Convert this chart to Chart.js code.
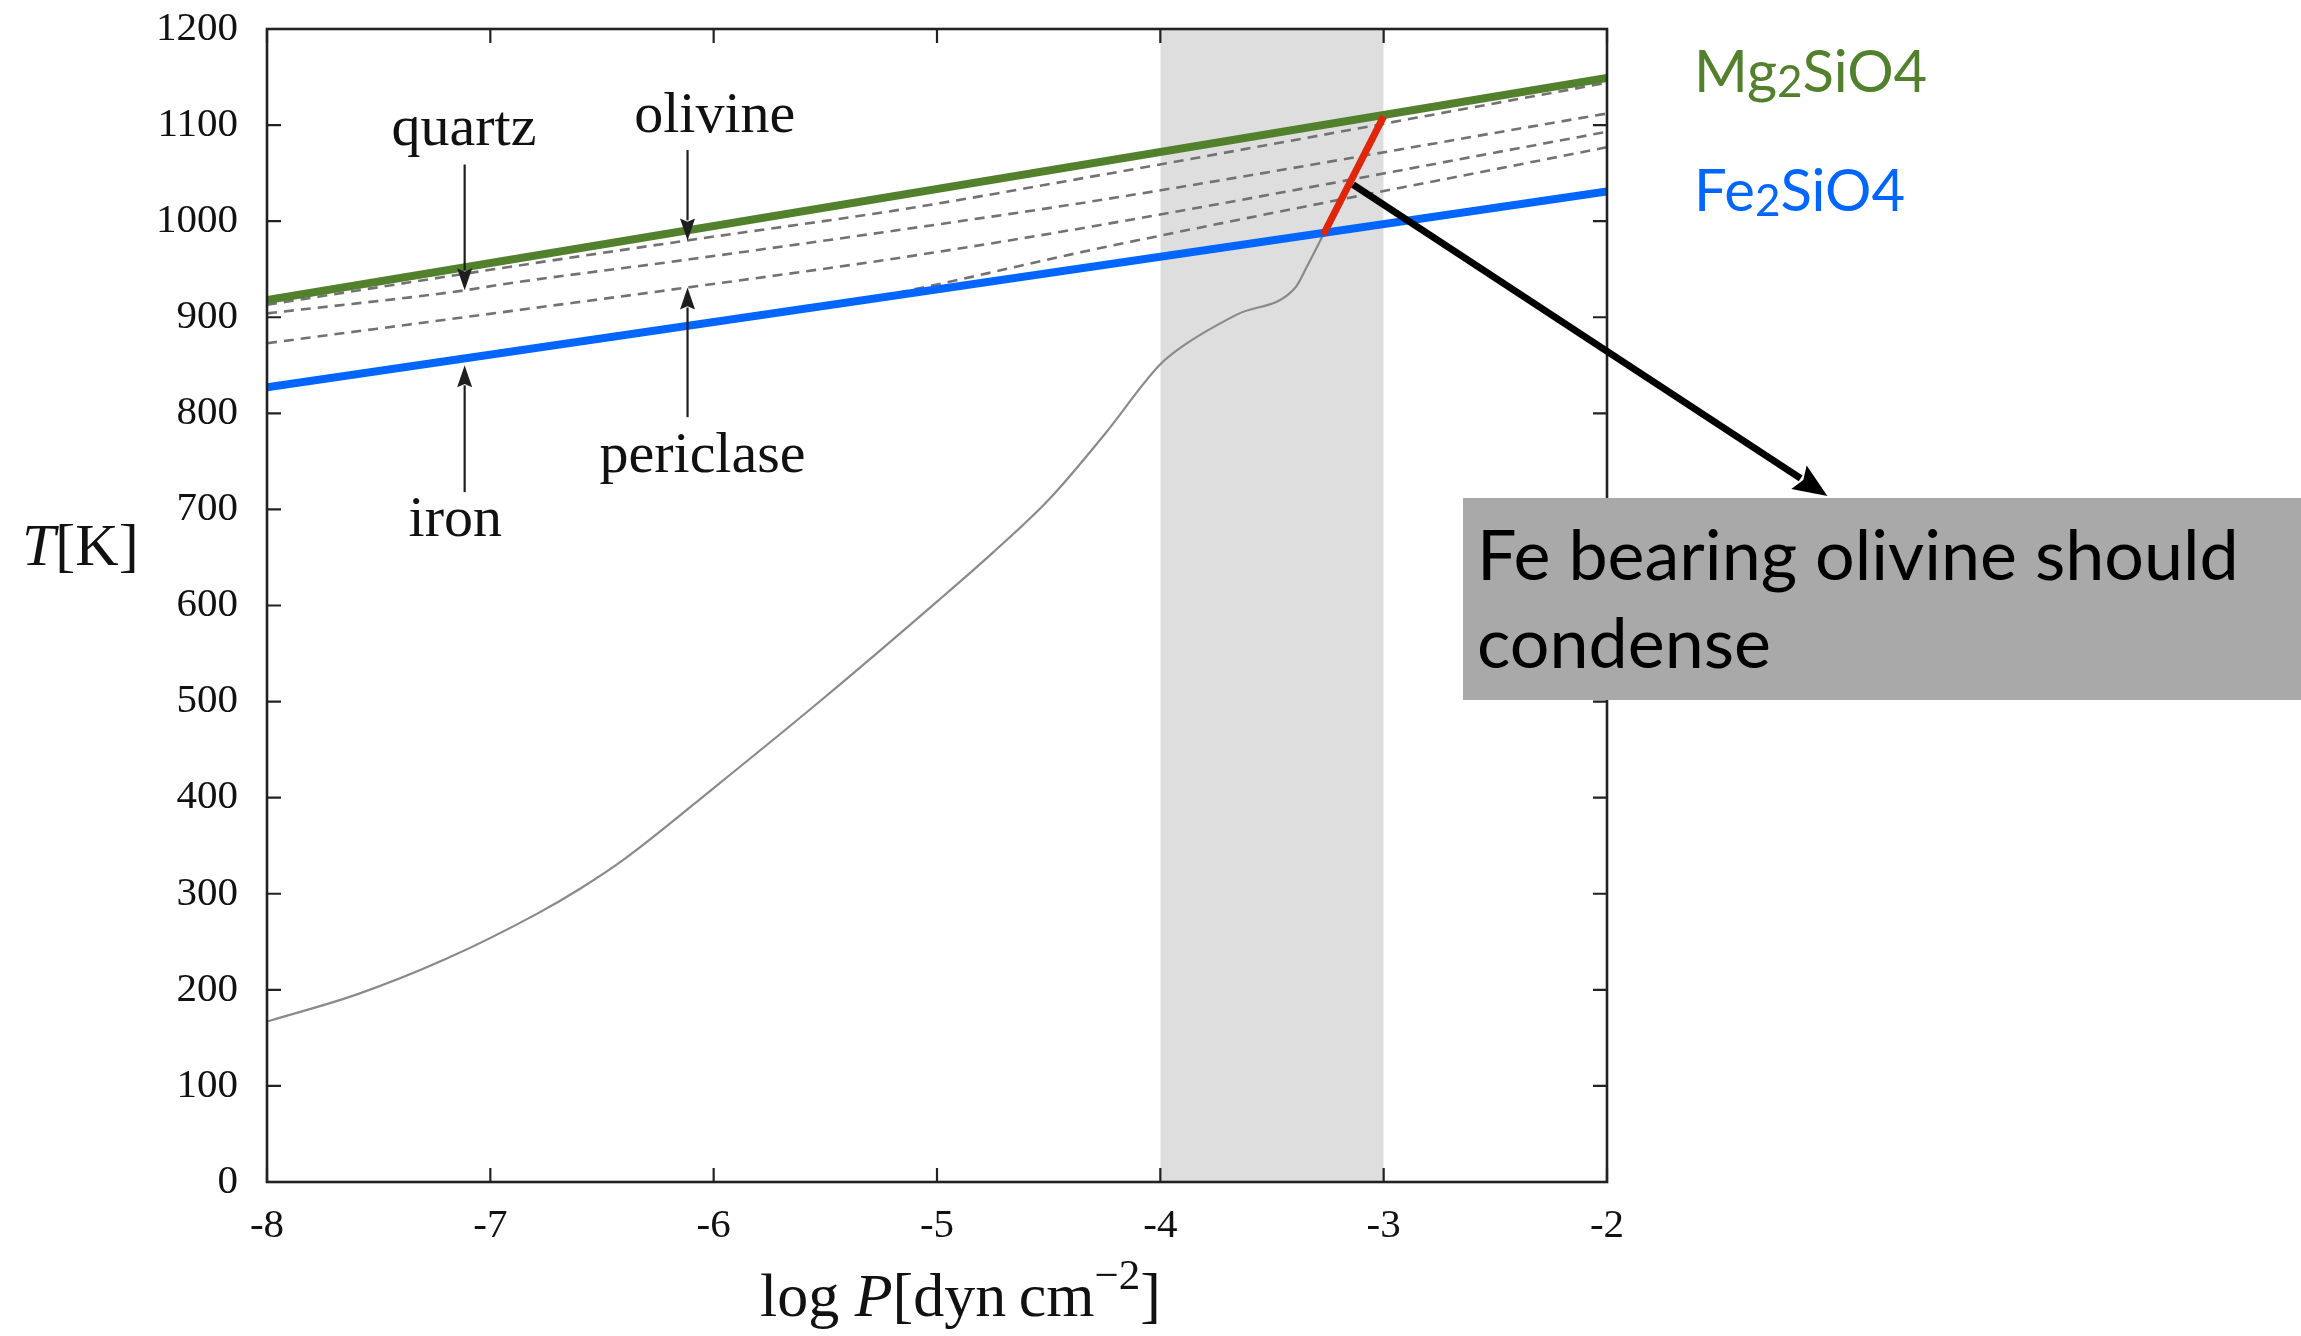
<!DOCTYPE html>
<html>
<head>
<meta charset="utf-8">
<script src="https://cdn.jsdelivr.net/npm/chart.js@4.4.1/dist/chart.umd.min.js"></script>
<style>
  html, body { margin: 0; padding: 0; background: #fff; }
  canvas { display: block; }
</style>
</head>
<body>
<canvas id="condensationChart" width="2301" height="1336"></canvas>
<script>
/* ================================
   Data
================================ */
const xTicks = [-8, -7, -6, -5, -4, -3, -2];
const yTicks = [0, 100, 200, 300, 400, 500, 600, 700, 800, 900, 1000, 1100, 1200];

// straight condensation lines
const lineLogP = [-8, -2];
const tMg2SiO4 = [918, 1149];
const tFe2SiO4 = [827, 1031];

// dashed condensation curves
const olivineLogP = [-8, -6.955, -6.117, -5.164, -4.268, -2];
const olivineT = [913, 951, 980, 1012, 1048, 1144];
const quartzLogP = [-8, -7.115, -6.955, -6.117, -5.164, -4.268, -2];
const quartzT = [904, 928, 934, 960, 991, 1022, 1112];
const periclaseLogP = [-8, -6.955, -6.117, -5.164, -4.268, -2];
const periclaseT = [873, 905, 931, 962, 996, 1093];
const dashed4LogP = [-5.7, -5.164, -4.268, -2];
const dashed4T = [903, 926, 972, 1077];

// thin grey (p,T) profile
const profileLogP = [-8, -7.6, -7.2, -6.8, -6.6, -6.4, -6, -5.5, -5, -4.75, -4.5, -4.25, -4, -3.88, -3.656, -3.395, -3.343, -3.27];
const profileT = [167, 195, 232, 278, 305, 336, 410, 505, 604, 655, 710, 778, 851, 873, 903, 931, 953, 986];

// red segment (Fe bearing olivine)
const redLogP = [-3.27, -3.0];
const redT = [986, 1109];

// shaded pressure band
const bandLogP = [-4, -3];
const bandT = [1200, 1200];

// arrows with labels
const noteText = ["quartz", "olivine", "periclase", "iron"];
const noteTextLogP = [-7.118, -5.995, -6.05, -7.157];
const noteTextT = [1079, 1093, 739, 672];
const noteArrowLogP = [-7.115, -6.117, -6.117, -7.115];
const noteArrowFromT = [1059, 1074, 796, 718];
const noteArrowToT = [928, 980, 931, 850];

// pointer from red segment to the text box
const pointerLogP = [-3.137, -1.013];
const pointerT = [1038, 714];

/* ================================
   Styles
================================ */
const SERIF = "'Liberation Serif', 'DejaVu Serif', serif";
const SANS = "Lato, 'Open Sans', sans-serif";
const GREEN = "#52802d";
const BLUE = "#0066ff";
const RED = "#e0260a";
const AXIS = "#222";
const TICK_LEN = 14;

function toPts(xs, ys) {
  return xs.map((v, i) => ({ x: v, y: ys[i] }));
}

function dashedSet(label, xs, ys) {
  return {
    label,
    data: toPts(xs, ys),
    borderColor: "#727272",
    borderWidth: 2.6,
    borderDash: [10, 7],
    pointRadius: 0,
    cubicInterpolationMode: "monotone"
  };
}

/* ================================
   Drawing helpers
================================ */
function drawRuns(ctx, runs, x, y, align) {
  let total = 0;
  runs.forEach(r => {
    ctx.font = r.font;
    r.w = ctx.measureText(r.text).width;
    total += r.w;
  });
  let cx = align === "center" ? x - total / 2 : x;
  runs.forEach(r => {
    ctx.font = r.font;
    if (r.color) ctx.fillStyle = r.color;
    ctx.fillText(r.text, cx, y + (r.dy || 0));
    cx += r.w;
  });
}

function drawArrow(ctx, x0, y0, x1, y1, lw, headLen, headW, color) {
  const ang = Math.atan2(y1 - y0, x1 - x0);
  const bx = x1 - Math.cos(ang) * headLen;
  const by = y1 - Math.sin(ang) * headLen;
  ctx.strokeStyle = color;
  ctx.fillStyle = color;
  ctx.lineWidth = lw;
  ctx.beginPath();
  ctx.moveTo(x0, y0);
  ctx.lineTo(bx + Math.cos(ang) * 2, by + Math.sin(ang) * 2);
  ctx.stroke();
  ctx.beginPath();
  ctx.moveTo(x1, y1);
  ctx.lineTo(bx + Math.sin(ang) * headW / 2, by - Math.cos(ang) * headW / 2);
  ctx.lineTo(bx + Math.cos(ang) * headLen * 0.15, by + Math.sin(ang) * headLen * 0.15);
  ctx.lineTo(bx - Math.sin(ang) * headW / 2, by + Math.cos(ang) * headW / 2);
  ctx.closePath();
  ctx.fill();
}

/* ================================
   Plugin: frame, ticks, notes
================================ */
const figureNotes = {
  id: "figureNotes",
  beforeDraw(chart) {
    const { ctx, width, height } = chart;
    ctx.save();
    ctx.fillStyle = "#fff";
    ctx.fillRect(0, 0, width, height);
    ctx.restore();
  },
  afterDatasetsDraw(chart) {
    const { ctx, chartArea: a, scales: { x, y } } = chart;
    ctx.save();

    // frame + inward ticks on all four sides
    ctx.strokeStyle = AXIS;
    ctx.lineWidth = 2.6;
    ctx.strokeRect(a.left, a.top, a.right - a.left, a.bottom - a.top);
    ctx.lineWidth = 2.2;
    ctx.beginPath();
    xTicks.forEach(v => {
      const px = x.getPixelForValue(v);
      ctx.moveTo(px, a.bottom); ctx.lineTo(px, a.bottom - TICK_LEN);
      ctx.moveTo(px, a.top); ctx.lineTo(px, a.top + TICK_LEN);
    });
    yTicks.forEach(v => {
      const py = y.getPixelForValue(v);
      ctx.moveTo(a.left, py); ctx.lineTo(a.left + TICK_LEN, py);
      ctx.moveTo(a.right, py); ctx.lineTo(a.right - TICK_LEN, py);
    });
    ctx.stroke();

    // labelled arrows inside the plot
    ctx.textBaseline = "alphabetic";
    noteText.forEach((t, i) => {
      const ax = x.getPixelForValue(noteArrowLogP[i]);
      drawArrow(ctx, ax, y.getPixelForValue(noteArrowFromT[i]), ax, y.getPixelForValue(noteArrowToT[i]), 2.2, 22, 15, "#1e1e1e");
      ctx.fillStyle = "#111";
      ctx.font = "58px " + SERIF;
      ctx.textAlign = "center";
      ctx.fillText(t, x.getPixelForValue(noteTextLogP[i]), y.getPixelForValue(noteTextT[i]));
    });
    ctx.textAlign = "left";

    // axis titles
    ctx.fillStyle = "#111";
    drawRuns(ctx, [
      { text: "T", font: "italic 60px " + SERIF },
      { text: "[K]", font: "60px " + SERIF }
    ], 22, 565, "left");
    drawRuns(ctx, [
      { text: "log ", font: "62px " + SERIF },
      { text: "P", font: "italic 62px " + SERIF },
      { text: "[dyn\u2009cm", font: "62px " + SERIF },
      { text: "\u22122", font: "43px " + SERIF, dy: -27 },
      { text: "]", font: "62px " + SERIF }
    ], 760, 1316, "left");

    // species labels right of the plot
    drawRuns(ctx, [
      { text: "Mg", font: "58px " + SANS, color: GREEN },
      { text: "2", font: "44px " + SANS, dy: 5 },
      { text: "SiO4", font: "58px " + SANS }
    ], a.right + 87, 92, "left");
    drawRuns(ctx, [
      { text: "Fe", font: "58px " + SANS, color: BLUE },
      { text: "2", font: "44px " + SANS, dy: 5 },
      { text: "SiO4", font: "58px " + SANS }
    ], a.right + 87, 211, "left");

    // grey call-out box
    const boxLeft = 1463, boxTop = 498, boxBottom = 700;
    ctx.fillStyle = "#a9a9a9";
    ctx.fillRect(boxLeft, boxTop, chart.width - boxLeft, boxBottom - boxTop);
    ctx.fillStyle = "#000";
    ctx.font = "70px " + SANS;
    ctx.fillText("Fe bearing olivine should", boxLeft + 14, 580);
    ctx.fillText("condense", boxLeft + 14, 668);

    // black pointer arrow
    drawArrow(ctx,
      x.getPixelForValue(pointerLogP[0]), y.getPixelForValue(pointerT[0]),
      x.getPixelForValue(pointerLogP[1]), y.getPixelForValue(pointerT[1]),
      7, 34, 28, "#000");

    ctx.restore();
  }
};

/* ================================
   Chart
================================ */
const ctx = document.getElementById("condensationChart");

new Chart(ctx, {
  type: "line",
  data: {
    datasets: [
      { label: "Fe bearing olivine", data: toPts(redLogP, redT), borderColor: RED, borderWidth: 7, pointRadius: 0 },
      { label: "Mg2SiO4", data: toPts(lineLogP, tMg2SiO4), borderColor: GREEN, borderWidth: 8, pointRadius: 0 },
      { label: "Fe2SiO4", data: toPts(lineLogP, tFe2SiO4), borderColor: BLUE, borderWidth: 8, pointRadius: 0 },
      dashedSet("olivine", olivineLogP, olivineT),
      dashedSet("quartz", quartzLogP, quartzT),
      dashedSet("periclase", periclaseLogP, periclaseT),
      dashedSet("dashed 4", dashed4LogP, dashed4T),
      {
        label: "profile",
        data: toPts(profileLogP, profileT),
        borderColor: "#8a8a8a",
        borderWidth: 2.2,
        pointRadius: 0,
        cubicInterpolationMode: "monotone"
      },
      {
        label: "band",
        data: toPts(bandLogP, bandT),
        fill: "origin",
        backgroundColor: "#dedede",
        borderWidth: 0,
        pointRadius: 0
      }
    ]
  },
  options: {
    responsive: false,
    devicePixelRatio: 1,
    animation: false,
    events: [],
    layout: { padding: { left: 0, top: 29, right: 694, bottom: 0 } },
    plugins: {
      legend: { display: false },
      tooltip: { enabled: false }
    },
    scales: {
      x: {
        type: "linear",
        min: -8,
        max: -2,
        afterFit: s => { s.height = 154; s.paddingLeft = 0; s.paddingRight = 0; },
        afterBuildTicks: s => { s.ticks = xTicks.map(v => ({ value: v })); },
        grid: { display: false, drawTicks: false },
        border: { display: false },
        ticks: {
          padding: 20,
          color: "#111",
          font: { family: SERIF, size: 41 },
          callback: v => String(v)
        }
      },
      y: {
        min: 0,
        max: 1200,
        afterFit: s => { s.width = 267; s.paddingTop = 0; s.paddingBottom = 0; },
        afterBuildTicks: s => { s.ticks = yTicks.map(v => ({ value: v })); },
        grid: { display: false, drawTicks: false },
        border: { display: false },
        ticks: {
          padding: 29,
          color: "#111",
          font: { family: SERIF, size: 41 },
          callback: v => String(v)
        }
      }
    }
  },
  plugins: [figureNotes]
});
</script>
</body>
</html>
